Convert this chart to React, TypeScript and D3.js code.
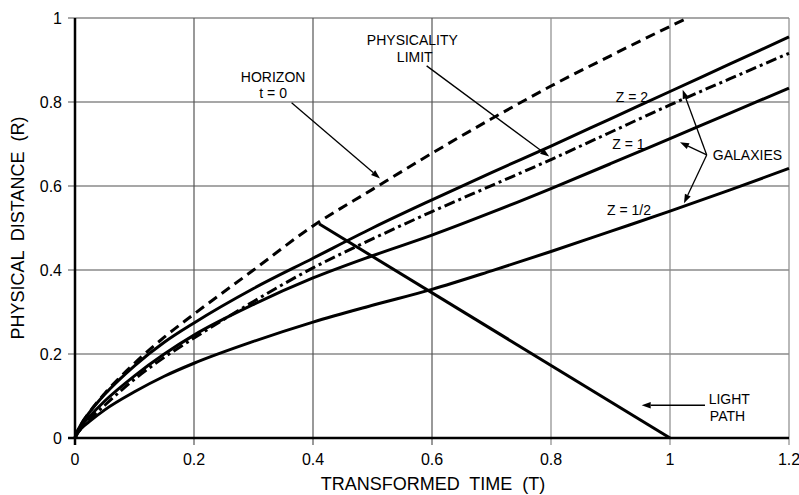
import React from "react";
import * as d3 from "d3";

const T = [0, 0.004, 0.01, 0.025, 0.05, 0.1, 0.15, 0.2, 0.3, 0.4, 0.5, 0.6, 0.7, 0.8, 0.9, 1.0, 1.1, 1.2];
const horizonT = [0, 0.004, 0.01, 0.025, 0.05, 0.1, 0.15, 0.2, 0.3, 0.4, 0.5, 0.6, 0.7, 0.8, 0.9, 1.0, 1.03];
const horizonR = [0, 0.016, 0.032, 0.063, 0.106, 0.178, 0.24, 0.295, 0.4, 0.505, 0.592, 0.678, 0.76, 0.838, 0.91, 0.98, 1.0];
const z2R = [0, 0.016, 0.032, 0.062, 0.104, 0.172, 0.228, 0.274, 0.356, 0.428, 0.5, 0.567, 0.632, 0.695, 0.76, 0.825, 0.89, 0.955];
const limitR = [0, 0.011, 0.022, 0.045, 0.078, 0.14, 0.192, 0.238, 0.325, 0.405, 0.474, 0.539, 0.601, 0.663, 0.728, 0.793, 0.855, 0.916];
const z1R = [0, 0.014, 0.028, 0.052, 0.088, 0.148, 0.2, 0.245, 0.318, 0.381, 0.434, 0.483, 0.537, 0.594, 0.653, 0.713, 0.773, 0.833];
const zHalfR = [0, 0.011, 0.022, 0.04, 0.067, 0.11, 0.147, 0.178, 0.23, 0.276, 0.316, 0.354, 0.398, 0.444, 0.492, 0.54, 0.59, 0.642];
const lightT = [0.41, 1.0];
const lightR = [0.51, 0];
const xTicks = [0, 0.2, 0.4, 0.6, 0.8, 1, 1.2];
const yTicks = [0, 0.2, 0.4, 0.6, 0.8, 1];
const xTickLabels = ["0", "0.2", "0.4", "0.6", "0.8", "1", "1.2"];
const yTickLabels = ["0", "0.2", "0.4", "0.6", "0.8", "1"];

export default function App() {
  const W = 799, H = 495;
  const x = d3.scaleLinear().domain([0, 1.2]).range([75, 789]);
  const y = d3.scaleLinear().domain([0, 1]).range([438, 18]);
  const line = d3
    .line<[number, number]>()
    .x((d) => x(d[0]))
    .y((d) => y(d[1]))
    .curve(d3.curveMonotoneX);
  const pts = (ts: number[], rs: number[]) => ts.map((t, i) => [t, rs[i]] as [number, number]);
  const font = "'Liberation Sans', Arial, sans-serif";

  const arrow = (x1: number, y1: number, x2: number, y2: number, key: string) => {
    const px1 = x(x1), py1 = y(y1), px2 = x(x2), py2 = y(y2);
    const ang = Math.atan2(py2 - py1, px2 - px1);
    const L = 9, Wd = 3.2;
    const bx = px2 - L * Math.cos(ang), by = py2 - L * Math.sin(ang);
    const nx = -Math.sin(ang), ny = Math.cos(ang);
    return (
      <g key={key}>
        <line x1={px1} y1={py1} x2={bx} y2={by} stroke="#000" strokeWidth={1.3} />
        <polygon
          points={`${px2},${py2} ${bx + nx * Wd},${by + ny * Wd} ${bx - nx * Wd},${by - ny * Wd}`}
          fill="#000"
        />
      </g>
    );
  };

  const label = (px: number, py: number, text: string, anchor = "middle", key?: string) => (
    <text key={key || text} x={px} y={py} textAnchor={anchor} fontSize={14} fontFamily={font} fill="#000">
      {text}
    </text>
  );

  return (
    <svg width={W} height={H} style={{ position: "absolute", left: 0, top: 0, background: "#fff" }}>
      {yTicks.map((t) => (
        <line key={"gy" + t} x1={68} x2={789} y1={y(t)} y2={y(t)} stroke="#8a8a8a" strokeWidth={1.3} />
      ))}
      {xTicks.map((t) => (
        <line key={"gx" + t} x1={x(t)} x2={x(t)} y1={18} y2={445} stroke={t >= 0.8 ? "#8a8a8a" : "#555"} strokeWidth={1.2} />
      ))}
      <line x1={75} x2={75} y1={18} y2={445} stroke="#000" strokeWidth={2.5} />
      <line x1={68} x2={789} y1={438} y2={438} stroke="#000" strokeWidth={2.5} />
      {xTicks.map((t, i) => (
        <text key={"xl" + t} x={x(t)} y={465} textAnchor="middle" fontSize={16} fontFamily={font} fill="#000">
          {xTickLabels[i]}
        </text>
      ))}
      {yTicks.map((t, i) => (
        <text key={"yl" + t} x={62} y={y(t) + 6} textAnchor="end" fontSize={16} fontFamily={font} fill="#000">
          {yTickLabels[i]}
        </text>
      ))}
      <text x={433} y={490} textAnchor="middle" fontSize={18} fontFamily={font} fill="#000" style={{ whiteSpace: "pre" }}>
        {"TRANSFORMED  TIME  (T)"}
      </text>
      <text
        transform={`translate(24,228) rotate(-90)`}
        textAnchor="middle"
        fontSize={18}
        fontFamily={font}
        fill="#000"
        style={{ whiteSpace: "pre" }}
      >
        {"PHYSICAL  DISTANCE  (R)"}
      </text>
      <path d={line(pts(horizonT, horizonR)) || ""} fill="none" stroke="#000" strokeWidth={3} strokeDasharray="10,6" />
      <path d={line(pts(T, z2R)) || ""} fill="none" stroke="#000" strokeWidth={3} />
      <path d={line(pts(T, limitR)) || ""} fill="none" stroke="#000" strokeWidth={3} strokeDasharray="11,4,3,4" />
      <path d={line(pts(T, z1R)) || ""} fill="none" stroke="#000" strokeWidth={3} />
      <path d={line(pts(T, zHalfR)) || ""} fill="none" stroke="#000" strokeWidth={3} />
      <path d={line(pts(lightT, lightR)) || ""} fill="none" stroke="#000" strokeWidth={3} />
      {label(x(0.333), y(0.86) + 5, "HORIZON")}
      {label(x(0.333), y(0.821) + 5, "t = 0")}
      {label(x(0.567), y(0.947) + 5, "PHYSICALITY")}
      {label(x(0.571), y(0.907) + 5, "LIMIT")}
      {label(x(0.936), y(0.812) + 5, "Z = 2")}
      {label(x(0.93), y(0.7) + 5, "Z = 1")}
      {label(x(0.931), y(0.543) + 5, "Z = 1/2")}
      {label(x(1.072), y(0.674) + 5, "GALAXIES", "start")}
      {label(x(1.065), y(0.092) + 5, "LIGHT", "start")}
      {label(x(1.067), y(0.053) + 5, "PATH", "start")}
      {arrow(0.364, 0.798, 0.5126, 0.618, "ah")}
      {arrow(0.591, 0.886, 0.797, 0.67, "ap")}
      {arrow(1.0617, 0.674, 1.0213, 0.829, "a2")}
      {arrow(1.0617, 0.674, 1.0168, 0.704, "a1")}
      {arrow(1.0617, 0.674, 1.0235, 0.559, "a05")}
      {arrow(1.0588, 0.078, 0.9524, 0.078, "al")}
    </svg>
  );
}
